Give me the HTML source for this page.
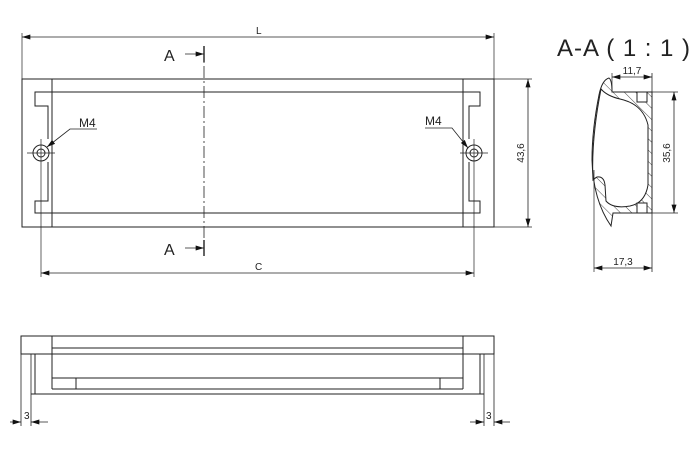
<!DOCTYPE html>
<html><head><meta charset="utf-8"><style>
html,body{margin:0;padding:0;background:#fff;}
svg{display:block;}
text{font-family:"Liberation Sans",sans-serif;fill:#222;}
</style></head><body>
<svg width="700" height="451" viewBox="0 0 700 451" xmlns="http://www.w3.org/2000/svg">
<defs>
<marker id="ar" viewBox="0 0 10 6" refX="10" refY="3" markerWidth="9" markerHeight="5" orient="auto-start-reverse" markerUnits="userSpaceOnUse"><path d="M0,0L10,3L0,6Z" fill="#111"/></marker>
<pattern id="h" patternUnits="userSpaceOnUse" width="8" height="8" patternTransform="rotate(-45)"><line x1="0" y1="0" x2="0" y2="8" stroke="#333" stroke-width="0.9"/></pattern>
</defs>
<g stroke="#222" stroke-width="1" fill="none">
<!-- top view -->
<rect x="22" y="79" width="472" height="148"/>
<line x1="52" y1="79" x2="52" y2="227"/>
<line x1="463" y1="79" x2="463" y2="227"/>
<path d="M52,92 L35,92 L35,106 L48,106 L48,139"/>
<path d="M48,162 L48,201 L35,201 L35,213 L52,213"/>
<path d="M463,92 L480,92 L480,106 L469,106 L469,139"/>
<path d="M469,162 L469,201 L480,201 L480,213 L463,213"/>
<line x1="52" y1="92" x2="463" y2="92"/>
<line x1="52" y1="213" x2="463" y2="213"/>
<circle cx="41" cy="153" r="8"/><circle cx="41" cy="153" r="4"/>
<circle cx="474" cy="153" r="8"/><circle cx="474" cy="153" r="4"/>
<line x1="27" y1="153" x2="55" y2="153" stroke-width="0.7"/>
<line x1="41" y1="139" x2="41" y2="277" stroke-width="0.7"/>
<line x1="460" y1="153" x2="488" y2="153" stroke-width="0.7"/>
<line x1="474" y1="139" x2="474" y2="277" stroke-width="0.7"/>
<path d="M97,129 L70,129 L47,147" marker-end="url(#ar)" stroke-width="0.8"/>
<path d="M425,128 L452,128 L468,148" marker-end="url(#ar)" stroke-width="0.8"/>
<!-- L dim -->
<line x1="22" y1="33" x2="22" y2="79" stroke-width="0.7"/>
<line x1="494" y1="33" x2="494" y2="79" stroke-width="0.7"/>
<line x1="22" y1="37" x2="494" y2="37" marker-start="url(#ar)" marker-end="url(#ar)" stroke-width="0.8"/>
<!-- C dim -->
<line x1="41" y1="273" x2="474" y2="273" marker-start="url(#ar)" marker-end="url(#ar)" stroke-width="0.8"/>
<!-- 43,6 -->
<line x1="494" y1="79" x2="532" y2="79" stroke-width="0.7"/>
<line x1="494" y1="227" x2="532" y2="227" stroke-width="0.7"/>
<line x1="528" y1="79" x2="528" y2="227" marker-start="url(#ar)" marker-end="url(#ar)" stroke-width="0.8"/>
<!-- section line -->
<line x1="204" y1="46" x2="204" y2="256" stroke-dasharray="12,3,2,3" stroke-width="0.8"/>
<line x1="185" y1="54" x2="204" y2="54" marker-end="url(#ar)" stroke-width="0.8"/>
<line x1="204" y1="46" x2="204" y2="62" stroke-width="1.4"/>
<line x1="185" y1="248" x2="204" y2="248" marker-end="url(#ar)" stroke-width="0.8"/>
<line x1="204" y1="240" x2="204" y2="256" stroke-width="1.4"/>
<!-- section view -->
<path d="M609,78 Q602,80 599,95 Q592,130 592,160 Q593,200 611,226 L613,213 L652,213 L652,92 L612,92 Q612,80 609,78 Z" fill="url(#h)" stroke="none"/>
<path d="M601,89 Q607,96 620,99 Q643,104 648,125 L648,185 Q645,203 630,206 Q613,209 606,201 L605,185 Q604,176 597,177 Q595,178 593,180 Q591,140 601,89 Z" fill="#fff"/>
<path d="M609,78 Q602,80 599,95 Q592,130 592,160 Q593,200 611,226 L613,213 L652,213 L652,92 L612,92 Q612,80 609,78 Z"/>
<rect x="637" y="92" width="10" height="10" fill="#fff"/>
<rect x="637" y="203" width="10" height="10" fill="#fff"/>
<line x1="652" y1="73" x2="652" y2="272" stroke-width="0.8"/>
<line x1="612" y1="73" x2="612" y2="92" stroke-width="0.7"/>
<line x1="612" y1="77" x2="652" y2="77" marker-start="url(#ar)" marker-end="url(#ar)" stroke-width="0.8"/>
<line x1="652" y1="92" x2="678" y2="92" stroke-width="0.7"/>
<line x1="652" y1="213" x2="678" y2="213" stroke-width="0.7"/>
<line x1="674" y1="92" x2="674" y2="213" marker-start="url(#ar)" marker-end="url(#ar)" stroke-width="0.8"/>
<line x1="594" y1="170" x2="594" y2="272" stroke-width="0.7"/>
<line x1="594" y1="268" x2="652" y2="268" marker-start="url(#ar)" marker-end="url(#ar)" stroke-width="0.8"/>
<!-- bottom view -->
<rect x="21" y="336" width="31" height="18"/>
<rect x="463" y="336" width="31" height="18"/>
<line x1="52" y1="336" x2="463" y2="336"/>
<line x1="52" y1="348" x2="463" y2="348"/>
<line x1="21" y1="354" x2="494" y2="354"/>
<rect x="52" y="354" width="411" height="24"/>
<line x1="21" y1="354" x2="21" y2="426" stroke-width="0.8"/>
<line x1="31" y1="354" x2="31" y2="426" stroke-width="0.8"/>
<line x1="35" y1="354" x2="35" y2="394"/>
<line x1="31" y1="394" x2="484" y2="394"/>
<line x1="52" y1="378" x2="52" y2="389"/>
<line x1="52" y1="389" x2="463" y2="389"/>
<line x1="463" y1="378" x2="463" y2="389"/>
<line x1="76" y1="378" x2="76" y2="389"/>
<line x1="440" y1="378" x2="440" y2="389"/>
<line x1="480" y1="354" x2="480" y2="394"/>
<line x1="484" y1="354" x2="484" y2="426" stroke-width="0.8"/>
<line x1="494" y1="354" x2="494" y2="426" stroke-width="0.8"/>
<line x1="10" y1="422" x2="21" y2="422" marker-end="url(#ar)" stroke-width="0.8"/>
<line x1="48" y1="422" x2="31" y2="422" marker-end="url(#ar)" stroke-width="0.8"/>
<line x1="470" y1="422" x2="484" y2="422" marker-end="url(#ar)" stroke-width="0.8"/>
<line x1="510" y1="422" x2="494" y2="422" marker-end="url(#ar)" stroke-width="0.8"/>
</g>
<text x="256" y="34" font-size="10">L</text>
<text x="255" y="270" font-size="10">C</text>
<text x="164" y="61" font-size="16">A</text>
<text x="164" y="255" font-size="16">A</text>
<text x="79" y="127" font-size="12">M4</text>
<text x="425" y="125" font-size="12">M4</text>
<text x="524" y="153" font-size="10" text-anchor="middle" transform="rotate(-90 524 153)">43,6</text>
<text x="670" y="153" font-size="10" text-anchor="middle" transform="rotate(-90 670 153)">35,6</text>
<text x="632" y="74" font-size="10" text-anchor="middle">11,7</text>
<text x="623" y="265" font-size="10" text-anchor="middle">17,3</text>
<text x="557" y="56" font-size="24" textLength="133" lengthAdjust="spacing">A-A ( 1 : 1 )</text>
<text x="24" y="419" font-size="10">3</text>
<text x="486" y="419" font-size="10">3</text>
</svg>
</body></html>
